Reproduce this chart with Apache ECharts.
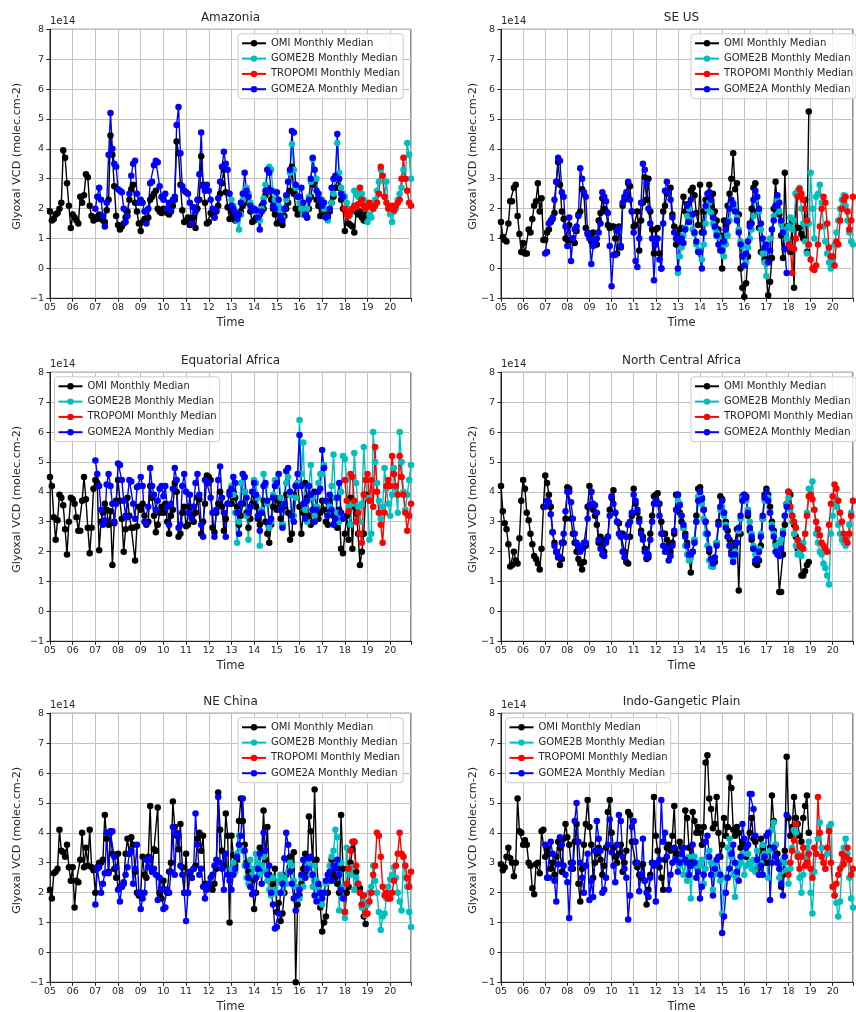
<!DOCTYPE html>
<html><head><meta charset="utf-8">
<script src="https://cdn.jsdelivr.net/npm/echarts@6/dist/echarts.min.js"></script>
<style>html,body{margin:0;padding:0;background:#fff}#c{width:856px;height:1012px}</style>
</head><body><div id="c"></div>
<script>
// ---------- labels ----------
const panelTitles = ['Amazonia','SE US','Equatorial Africa','North Central Africa','NE China','Indo-Gangetic Plain'];
const sensorNames = ['OMI Monthly Median','GOME2B Monthly Median','TROPOMI Monthly Median','GOME2A Monthly Median'];
const sensorStartYears = [2005, 2013, 2018, 2007];   // first month = January of that year
const xTickLabels = ['05','06','07','08','09','10','11','12','13','14','15','16','17','18','19','20'];
const yTickValues = [-1,0,1,2,3,4,5,6,7,8];
const yScaleLabel = '1e14';
const yAxisTitle = 'Glyoxal VCD (molec.cm-2)';
const xAxisTitle = 'Time';

// ---------- data (monthly medians, units of 1e14 molec/cm2) ----------
// Amazonia
const amazonia_OMI = [
1.9,1.6,1.65,1.8,1.85,2.0,2.2,3.95,3.7,2.85,2.1,1.35,
1.8,1.7,1.6,1.5,2.4,2.2,2.45,3.15,3.05,2.1,1.75,1.6,
1.7,1.65,1.8,1.75,1.6,1.55,1.95,2.3,4.45,3.8,2.75,1.75,
1.45,1.3,1.4,1.5,1.7,1.9,2.3,2.65,2.8,2.2,1.9,1.5,
1.25,1.55,1.65,1.6,1.7,2.3,2.4,2.5,2.6,2.0,1.9,1.85,
2.0,1.95,1.85,1.8,1.9,2.1,2.3,4.25,3.85,2.8,1.95,1.55,
1.6,1.7,1.45,1.55,1.7,1.35,2.0,2.3,3.75,2.8,2.2,1.5,
1.55,1.85,1.8,1.7,1.9,2.1,2.5,2.85,3.3,2.55,2.05,1.65,
1.9,1.7,1.6,1.75,1.8,1.9,2.1,2.3,2.5,2.2,1.9,1.55,
1.6,1.7,1.65,1.8,2.1,2.0,2.45,2.7,2.6,2.3,2.0,1.8,
1.5,1.8,1.6,1.45,1.75,2.0,2.2,2.6,3.4,2.5,2.0,1.8,
1.85,2.1,1.8,1.85,1.7,2.0,2.4,2.8,2.9,2.3,2.1,1.75,
2.0,1.75,1.8,1.7,1.9,2.2,2.4,2.7,3.0,2.7,2.3,2.0,
1.25,1.9,1.5,1.45,1.4,1.2,1.9,1.8,1.9,1.7,1.6,1.8];
const amazonia_GOME2A = [
2.0,2.4,2.7,2.3,1.75,1.4,2.2,3.8,5.2,4.0,3.5,3.4,
2.65,2.6,2.55,2.0,1.55,1.75,2.5,3.1,3.5,3.6,2.5,2.2,
2.3,2.2,1.9,1.5,2.0,2.85,2.9,3.45,3.6,3.55,2.75,2.4,
2.3,2.5,2.0,2.2,1.95,2.3,2.4,4.8,5.4,3.85,2.75,2.6,
2.55,2.5,2.2,1.5,2.05,1.9,2.3,3.15,4.55,2.75,2.6,2.8,
2.6,2.3,2.0,1.7,1.95,2.35,2.9,3.4,3.9,3.5,3.3,2.5,
2.1,2.0,1.85,1.65,1.8,2.2,2.5,3.2,2.6,2.4,2.1,1.95,
2.0,1.95,1.7,1.3,1.9,2.2,2.6,3.3,3.2,2.6,2.1,2.0,
2.55,2.3,1.75,1.6,2.0,2.45,2.9,3.3,4.6,4.55,2.8,2.4,
2.4,2.7,2.2,1.8,1.7,2.3,3.0,3.7,3.3,2.6,2.5,2.3,
2.1,2.2,1.7,1.75,2.0,2.7,3.0,3.1,4.5,3.0,2.5,2.4];
const amazonia_GOME2B = [
2.3,2.1,1.9,1.6,1.3,1.8,2.3,2.6,2.7,2.5,2.2,2.0,
2.0,1.9,1.75,1.6,2.0,2.35,2.8,3.3,3.4,3.3,2.6,2.3,
2.3,2.1,1.95,1.7,2.0,2.3,2.9,3.2,4.15,3.3,2.7,2.4,
2.2,2.0,1.8,1.9,2.0,2.4,2.9,3.65,3.3,3.0,2.5,2.3,
2.3,2.0,1.7,1.6,2.0,2.2,2.5,3.0,4.2,3.2,2.7,2.5,
2.4,2.2,2.0,1.8,2.0,2.6,2.5,2.4,2.7,2.5,2.3,2.2,
1.55,1.8,1.7,2.0,2.3,2.6,2.9,3.3,3.1,2.4,2.9,2.1,
1.8,1.55,1.9,2.0,2.3,2.5,2.7,3.3,3.0,4.2,3.8,3.0];
const amazonia_TROPOMI = [
2.0,1.8,1.75,1.9,2.0,2.1,2.05,2.15,2.7,2.3,2.1,2.0,
2.05,2.2,2.1,2.0,2.1,2.2,2.5,3.4,3.1,2.4,2.2,2.0,
2.05,2.1,1.95,2.1,2.2,2.3,3.0,3.7,3.0,2.6,2.2,2.1];

// SE US
const seus_OMI = [
1.55,1.05,0.95,0.9,1.5,2.25,2.25,2.7,2.8,1.75,1.15,0.55,
0.85,0.5,0.5,1.3,1.2,1.65,2.1,2.25,2.85,1.9,2.35,0.95,
0.95,1.2,1.3,1.55,1.65,1.85,2.9,3.55,2.8,1.9,1.65,1.0,
0.95,1.45,0.95,1.0,0.85,1.25,1.8,1.9,2.65,2.5,1.35,1.15,
1.1,0.9,1.2,0.9,0.8,1.6,1.85,2.35,2.0,1.9,1.45,1.35,
1.4,1.4,1.0,0.5,1.4,0.7,2.1,2.3,2.45,2.85,2.75,1.9,
1.4,1.45,1.9,0.6,1.6,2.2,3.05,2.3,3.0,1.9,1.3,0.5,
1.3,1.35,0.5,0.0,1.9,2.1,2.5,2.55,2.7,1.8,1.4,0.8,
1.1,1.3,1.35,2.4,1.9,2.15,1.75,2.6,2.7,2.45,1.85,1.45,
2.8,1.2,1.9,2.3,2.0,2.8,2.1,2.5,1.9,1.6,1.3,1.1,
0.0,1.6,1.4,2.1,2.5,3.0,3.85,2.65,2.85,1.8,0.0,-0.65,
-0.95,-0.5,0.4,1.5,2.0,2.7,2.85,1.9,1.35,0.55,0.5,0.3,
0.3,-0.9,-0.45,0.35,2.0,2.9,2.0,1.8,1.1,0.35,3.2,1.4,
1.4,0.55,1.6,-0.65,2.5,1.35,1.35,1.15,1.0,2.3,0.55,5.25];
const seus_GOME2A = [
0.5,0.55,1.5,1.6,1.7,2.3,2.9,3.7,3.6,2.55,2.4,1.4,
0.75,1.7,0.25,1.0,1.3,1.4,1.75,3.35,3.0,2.55,2.4,1.2,
1.0,0.15,0.75,0.9,1.0,1.2,1.5,2.55,2.4,2.25,1.85,0.75,
-0.6,0.45,0.45,1.25,1.35,0.75,2.2,2.4,2.55,2.9,2.3,1.9,
1.2,0.25,0.05,1.0,2.2,3.5,3.3,2.85,2.0,1.5,1.0,-0.4,
0.8,1.0,0.3,0.0,1.5,2.6,2.9,2.55,2.3,1.7,1.2,1.0,
0.0,0.9,1.0,0.85,1.3,2.1,1.55,2.3,1.8,1.2,0.9,0.55,
0.55,0.0,1.2,2.1,2.5,2.55,2.3,1.7,1.4,1.1,0.8,0.6,
0.6,0.9,1.3,1.55,2.0,2.3,2.15,1.9,1.6,1.2,0.8,0.4,
0.1,0.5,0.9,1.4,1.5,2.3,2.6,2.4,2.0,1.5,1.0,0.7,
0.8,0.2,0.6,1.3,1.6,2.1,2.45,2.2,1.6,1.2,0.65,-0.15];
const seus_GOME2B = [
-0.15,0.4,0.7,1.1,1.35,1.75,2.0,1.7,1.3,1.15,0.8,0.6,
0.6,0.3,0.8,1.5,2.0,2.2,1.85,1.5,1.35,1.2,1.05,0.7,
0.6,0.4,0.8,1.1,1.6,2.1,2.2,2.0,1.7,1.3,0.9,0.75,
0.4,0.2,0.7,1.0,1.3,1.75,2.3,2.4,1.9,1.3,0.5,0.2,
-0.25,0.6,1.0,1.3,1.75,2.1,2.3,1.9,1.5,1.3,1.2,1.0,
1.4,1.7,1.3,1.6,2.5,2.6,2.7,2.0,1.5,0.9,0.5,1.5,
3.2,2.0,1.0,2.4,2.5,2.8,2.2,1.4,0.9,0.5,0.2,0.0,
0.3,0.8,1.2,1.6,2.0,2.3,2.45,2.1,1.6,1.2,0.9,0.8];
const seus_TROPOMI = [
0.8,0.7,-0.15,0.65,1.0,2.4,2.65,2.5,2.3,2.0,1.6,0.8,
0.3,0.0,-0.05,0.1,0.8,1.4,2.0,2.4,2.2,1.5,0.7,0.4,
0.4,0.1,0.9,0.8,1.6,2.0,2.3,2.4,1.9,1.3,1.6,2.4];

// Equatorial Africa
const eqafrica_OMI = [
4.5,4.2,3.15,2.4,3.05,3.9,3.8,3.55,2.75,1.9,3.0,3.8,
3.75,3.6,3.15,2.7,2.7,3.7,4.5,3.75,2.8,1.95,2.8,4.1,
4.4,4.3,2.05,3.0,3.3,3.6,3.4,2.9,3.35,1.55,2.95,3.7,
4.4,3.7,3.1,2.0,2.75,3.8,3.2,2.8,2.8,1.7,2.85,3.5,
3.4,3.6,3.2,2.9,3.0,4.2,3.8,3.2,2.65,2.9,3.3,3.5,
3.3,3.6,3.0,2.6,3.2,3.4,4.3,4.0,2.5,2.6,3.3,3.5,
2.85,2.9,3.5,3.2,3.0,3.3,3.8,3.75,2.6,3.0,3.6,4.55,
4.5,4.4,2.8,2.65,3.3,3.6,4.0,3.5,2.7,3.1,3.6,4.0,
3.6,4.0,3.8,3.5,2.9,3.2,3.6,4.0,3.3,2.8,3.1,3.6,
3.9,3.5,3.1,2.9,3.3,3.7,3.0,2.6,2.3,2.9,3.5,3.8,
3.4,3.7,3.1,2.9,3.5,3.9,3.3,2.4,2.6,3.9,4.2,4.3,
3.5,2.6,3.3,4.3,3.8,3.2,2.9,3.4,4.0,3.5,3.1,3.3,
3.7,3.4,3.0,2.9,3.5,3.8,3.2,3.0,2.8,3.4,2.1,1.95,
2.6,3.2,2.4,3.8,2.1,3.5,3.3,2.6,1.55,2.0,2.6,3.9];
const eqafrica_GOME2A = [
5.05,4.6,4.2,3.4,2.9,3.05,4.25,4.6,4.2,3.6,3.0,3.6,
4.95,4.9,4.4,3.7,3.2,3.15,4.4,4.35,3.6,3.1,4.15,4.2,
4.5,4.2,3.0,2.95,3.5,4.8,4.2,3.9,3.4,3.7,4.1,4.2,
3.85,4.2,3.5,2.9,3.6,4.1,4.8,4.4,2.8,2.9,4.2,4.6,
4.0,3.3,3.9,3.1,3.5,4.3,4.6,3.9,2.9,2.5,4.4,4.3,
4.3,3.8,3.3,2.5,3.4,4.4,4.85,3.8,3.3,2.5,3.6,3.9,
4.1,4.5,4.3,3.3,2.6,3.6,4.6,4.5,3.8,3.3,3.5,4.0,
4.3,3.9,3.2,2.7,3.3,4.2,4.3,3.7,3.0,3.1,3.8,4.2,
4.3,4.6,3.4,2.8,3.6,4.7,4.8,4.0,3.2,3.0,4.2,4.6,
5.9,4.2,3.6,3.1,3.7,4.2,3.9,3.4,3.0,3.4,4.0,4.1,
5.4,4.8,3.7,3.2,3.9,3.4,2.9,3.1,3.8,4.3,3.3,3.1];
const eqafrica_GOME2B = [
4.2,3.9,3.3,2.3,3.0,4.3,4.6,4.0,3.2,2.4,3.5,4.0,
4.4,4.3,3.8,2.2,3.4,4.6,4.2,3.6,2.8,3.0,3.9,4.4,
4.2,4.6,3.8,2.9,3.6,4.3,4.5,3.9,3.1,3.2,3.8,4.3,
6.4,4.6,5.65,3.4,3.0,4.2,4.9,3.8,3.2,3.5,4.3,4.6,
4.6,4.9,3.7,3.2,3.5,4.2,5.25,3.8,3.3,3.0,4.0,5.2,
5.1,4.4,3.5,2.9,3.6,5.3,4.3,3.5,3.0,3.6,5.5,4.4,
3.8,2.4,2.6,6.0,5.0,4.3,3.7,3.1,3.5,4.8,4.1,3.6,
3.2,3.9,4.8,4.1,3.3,6.0,5.0,4.0,3.4,3.9,4.4,4.9];
const eqafrica_TROPOMI = [
4.4,3.7,3.35,4.6,4.5,3.7,3.0,3.3,2.6,2.3,3.9,4.4,
4.6,3.7,4.4,3.5,5.5,4.0,3.3,2.9,2.3,3.3,4.2,4.4,
4.2,5.2,4.6,4.2,3.9,5.2,4.5,3.9,3.3,2.7,3.2,3.6];

// North Central Africa
const ncafrica_OMI = [
4.2,3.35,2.95,2.75,2.25,1.5,1.55,2.0,1.7,1.6,2.45,3.7,
4.4,4.1,3.3,3.05,2.6,2.25,1.85,1.75,1.6,1.4,2.1,3.5,
4.55,4.3,3.9,3.5,2.65,2.3,2.0,1.8,1.55,1.75,2.3,3.1,
4.15,4.1,3.1,2.6,2.3,2.0,1.75,1.6,1.4,1.65,2.2,3.5,
4.2,4.0,3.4,3.2,2.9,2.3,2.5,2.3,2.0,2.4,2.5,3.4,
3.8,4.05,3.3,3.0,2.95,2.6,2.6,2.0,1.65,1.6,2.5,3.2,
4.1,3.6,3.3,3.1,2.7,2.5,2.1,1.75,1.8,2.6,3.2,3.85,
3.9,3.95,3.6,3.0,2.6,2.6,2.4,2.2,2.0,2.3,2.6,3.9,
3.9,3.3,3.0,2.8,2.6,2.3,1.85,1.3,2.0,2.4,3.2,4.1,
4.15,3.8,3.4,3.0,2.6,2.0,1.7,1.5,1.65,2.3,3.0,3.85,
3.75,3.3,3.0,2.7,2.4,2.0,2.2,2.3,2.75,0.7,2.6,3.85,
3.9,3.85,3.2,2.7,2.4,2.1,1.6,1.55,1.7,2.2,3.1,3.9,
4.1,3.9,3.5,3.0,2.7,2.3,2.1,0.65,0.65,1.9,2.9,3.6,
4.0,3.9,3.2,2.9,2.5,2.1,2.0,1.2,1.2,1.35,1.55,1.65];
const ncafrica_GOME2A = [
3.5,3.7,3.65,3.25,2.65,2.2,2.0,1.85,1.8,2.3,2.6,3.35,
4.0,4.0,3.65,3.1,2.6,2.3,2.2,2.0,2.1,2.3,2.3,3.1,
3.55,4.0,3.6,3.55,3.3,2.4,2.1,1.9,1.85,2.3,2.5,3.2,
3.85,3.6,3.3,3.0,2.6,2.5,2.0,1.8,2.5,2.9,3.0,3.3,
3.9,3.7,3.4,3.0,2.6,2.4,2.0,1.8,1.9,2.4,3.0,3.6,
3.7,3.6,3.2,2.6,2.2,2.0,2.1,1.7,1.85,2.2,2.7,3.4,
3.9,3.55,3.2,2.9,2.5,2.2,1.9,1.9,2.0,2.3,3.0,3.7,
4.0,3.75,3.4,3.0,2.6,2.1,1.75,1.6,1.8,2.2,2.9,3.5,
3.7,3.3,2.8,2.5,2.2,1.9,1.65,1.9,2.3,2.8,3.2,3.7,
3.9,3.8,3.3,2.8,2.5,2.1,1.7,1.75,2.0,2.5,3.2,3.8,
4.0,3.7,3.3,2.8,2.5,2.0,1.9,1.85,2.1,2.6,3.2,3.5];
const ncafrica_GOME2B = [
3.7,3.6,3.2,2.8,2.2,1.9,1.7,1.8,2.0,2.4,3.0,3.85,
3.9,3.6,3.1,2.6,2.2,1.7,1.5,1.5,1.8,2.3,2.9,3.4,
3.5,3.2,2.9,2.5,2.2,1.9,1.75,2.0,2.3,2.7,3.1,3.8,
3.9,3.7,3.4,3.0,2.6,2.2,1.9,1.8,2.1,2.6,3.1,3.7,
4.0,3.8,3.3,2.9,2.6,2.2,2.0,2.3,2.4,2.7,3.2,3.6,
3.8,3.4,3.0,2.6,2.2,1.9,2.0,1.85,2.3,2.6,3.3,4.1,
3.9,4.35,3.4,2.6,2.3,2.0,1.9,1.6,1.45,1.2,0.9,2.6,
3.2,3.8,3.5,2.9,2.6,2.4,2.3,2.2,2.5,2.9,3.3,3.7];
const ncafrica_TROPOMI = [
4.0,3.5,3.2,3.0,2.8,2.4,2.2,2.15,2.1,2.6,3.2,3.85,
3.9,3.75,3.4,3.0,2.75,2.55,2.3,2.2,2.1,2.0,2.9,3.6,
3.85,4.25,4.1,3.7,3.3,3.0,2.6,2.4,2.3,2.6,3.2,3.7];

// NE China
const nechina_OMI = [
2.1,1.8,2.65,2.7,2.8,4.1,3.4,3.35,3.2,3.6,2.85,2.4,
2.85,1.5,2.4,2.35,3.1,4.0,2.85,3.5,2.9,4.1,2.85,2.75,
2.0,2.85,3.0,3.0,3.1,4.6,3.8,2.7,4.05,3.3,2.8,2.5,
3.3,2.2,2.2,2.3,3.3,3.8,3.3,3.85,3.6,2.7,2.0,1.9,
2.0,3.2,2.6,2.5,3.2,4.9,2.7,3.45,3.4,4.85,2.0,1.8,
2.4,2.1,2.0,2.7,3.0,5.05,4.2,3.9,3.45,4.3,2.85,2.0,
3.3,2.0,2.6,2.5,2.8,2.9,3.8,4.0,3.4,3.9,2.3,2.2,
2.3,2.2,2.1,2.3,2.8,5.35,4.1,3.4,2.9,4.65,3.9,1.0,
3.9,3.25,2.9,3.1,4.4,5.15,4.4,3.6,3.0,2.7,2.5,2.4,
1.45,2.0,2.8,3.5,3.3,4.75,3.1,4.2,2.6,1.95,2.3,2.8,
1.35,1.65,1.05,1.3,2.0,2.6,3.1,3.2,2.8,3.35,-1.0,1.6,
1.9,2.3,2.8,3.3,2.6,4.55,4.05,3.0,5.45,3.1,2.2,1.5,
0.7,1.0,1.2,2.0,2.6,3.1,2.7,2.5,2.3,2.0,4.6,2.8,
1.35,2.0,2.2,3.0,3.45,3.7,2.7,2.3,2.15,1.6,1.2,0.95];
const nechina_GOME2A = [
1.6,2.8,2.85,2.0,2.3,2.65,4.0,2.65,4.0,4.05,3.2,2.85,
2.1,1.7,2.2,2.35,2.6,2.85,3.3,3.4,2.3,2.8,3.6,2.0,
1.45,1.8,2.0,3.1,2.85,3.15,2.7,2.8,2.6,1.75,2.5,2.1,
1.45,1.5,2.1,2.0,2.7,4.2,2.6,4.0,3.9,2.9,2.6,2.0,
1.05,2.0,2.7,2.5,2.8,4.65,3.6,2.6,2.8,2.2,1.8,2.1,
2.3,2.5,2.6,2.9,3.1,5.2,3.0,2.8,2.1,3.3,2.6,2.4,
2.1,2.6,2.8,3.2,3.6,3.9,5.15,3.4,2.9,2.5,2.2,1.95,
2.0,2.5,2.8,3.3,2.3,4.0,3.4,2.6,2.9,2.0,1.6,0.8,
0.85,1.3,2.0,2.3,3.15,4.0,3.6,2.7,2.3,1.8,1.4,1.9,
2.1,2.6,3.1,2.5,2.8,3.15,3.2,2.6,1.9,1.7,2.3,2.0,
1.8,2.0,2.4,2.6,2.7,2.4,2.9,2.8,3.1,2.6,2.1,1.8];
const nechina_GOME2B = [
2.8,3.0,2.7,3.3,3.9,3.5,3.4,2.9,2.5,2.3,3.1,2.6,
2.8,3.3,3.0,2.6,2.9,3.2,2.7,2.4,2.1,1.9,2.5,2.1,
2.0,2.4,2.6,2.0,2.5,2.3,2.7,3.0,2.9,2.4,2.2,1.8,
1.8,2.5,2.2,2.5,2.8,3.0,2.6,2.2,2.9,2.4,2.1,1.8,
1.6,2.0,2.3,2.6,2.9,3.2,3.4,4.1,3.85,1.4,3.0,2.2,
1.15,3.5,2.7,2.6,2.85,2.1,2.5,2.3,2.0,1.5,1.7,1.25,
1.6,2.0,2.2,2.9,2.4,2.0,1.35,0.75,1.2,1.3,1.8,2.2,
2.45,2.6,2.85,2.5,2.0,1.7,1.4,3.2,2.5,2.2,1.35,0.85];
const nechina_TROPOMI = [
1.35,2.3,2.8,3.4,3.7,3.7,2.9,2.3,2.0,1.6,1.9,1.3,
1.3,1.7,2.0,2.6,2.9,4.0,3.9,3.2,2.2,1.9,2.0,1.8,
1.8,2.0,2.4,2.9,3.3,4.0,3.3,3.2,2.9,2.5,2.2,2.7];

// Indo-Gangetic Plain
const igp_OMI = [
2.95,2.75,2.85,3.2,3.5,3.15,3.0,2.55,3.0,5.15,4.05,4.0,
3.6,3.75,3.6,3.0,2.9,2.15,1.95,2.95,3.0,2.65,4.05,4.1,
3.2,3.5,3.3,2.8,3.0,2.6,3.2,3.7,3.5,2.7,3.8,4.3,
3.85,3.6,3.0,2.8,3.7,4.3,2.3,1.7,2.8,3.6,4.3,5.1,
4.2,3.6,2.5,3.0,3.3,3.5,3.1,2.6,2.9,3.5,4.7,5.1,
4.0,3.5,3.2,3.0,3.3,3.6,2.7,3.0,3.4,4.7,4.6,3.7,
3.7,3.0,2.85,2.6,2.5,2.95,2.4,1.6,2.1,2.6,3.0,5.2,
3.9,3.4,2.85,2.5,2.1,3.1,3.5,3.6,3.4,3.9,4.9,3.3,
3.3,3.7,3.5,3.1,4.75,4.5,3.5,3.1,4.7,4.4,4.0,4.2,
4.0,3.6,4.2,6.35,6.6,5.15,4.8,4.15,4.3,5.2,4.0,3.2,
3.6,4.5,3.9,4.2,5.85,5.5,4.1,3.9,4.2,4.0,3.5,3.7,
3.6,3.2,3.6,4.0,4.5,3.8,3.7,2.7,2.85,3.8,3.4,3.1,
3.0,3.2,3.5,5.25,4.4,3.6,3.3,3.0,2.2,2.6,3.4,6.55,
4.5,3.9,4.2,5.2,4.5,4.3,3.9,3.7,4.5,4.9,5.25,4.0];
const igp_GOME2A = [
3.6,2.5,2.5,3.7,3.3,2.4,1.7,2.95,3.85,3.6,2.9,2.6,
2.35,1.15,2.8,3.0,4.4,5.0,3.7,3.0,2.5,2.0,2.9,3.3,
1.75,2.4,1.85,3.4,4.4,3.8,3.4,2.0,2.1,2.5,3.6,4.45,
3.35,2.9,2.35,3.6,4.6,4.4,3.2,2.8,2.5,1.1,1.9,4.2,
4.4,3.7,3.0,2.05,2.6,3.8,2.4,2.0,1.85,2.5,3.0,2.9,
1.7,3.0,3.1,5.1,3.7,4.0,3.2,2.1,2.6,3.0,3.5,3.1,
2.7,3.0,3.3,3.5,3.1,3.0,2.6,2.9,3.6,3.0,2.5,2.7,
1.8,2.2,2.6,3.7,3.9,3.2,2.6,1.9,2.8,3.1,3.2,2.6,
0.65,1.2,2.0,2.5,2.8,3.3,3.6,3.0,2.7,2.4,3.2,4.3,
3.8,3.5,3.6,5.3,5.3,4.8,3.9,3.1,2.6,2.9,2.6,3.2,
3.9,4.0,1.75,3.0,3.5,3.2,3.0,2.8,2.3,1.9,3.2,4.6];
const igp_GOME2B = [
3.0,2.9,3.1,2.6,3.0,2.4,3.2,1.8,2.9,3.2,2.9,3.0,
2.9,3.1,2.3,2.8,3.2,3.4,3.0,2.1,2.6,3.0,2.7,2.4,
1.3,2.0,2.5,3.5,3.8,3.2,2.6,1.85,2.5,2.9,3.0,3.3,
2.6,2.9,3.3,3.0,2.8,3.1,2.7,3.4,2.9,3.0,3.6,3.3,
3.2,2.5,3.4,4.1,4.35,3.6,3.0,2.5,2.7,3.1,3.0,2.75,
2.3,2.8,3.5,4.1,4.0,3.3,2.5,2.0,2.6,3.2,3.5,3.7,
2.0,1.3,2.7,3.3,3.8,4.35,3.5,3.0,2.8,3.3,4.2,4.3,
2.2,1.9,1.65,1.2,1.7,2.9,3.5,3.8,3.3,2.5,1.8,1.5];
const igp_TROPOMI = [
2.6,3.0,3.4,3.75,4.3,3.2,2.8,3.2,3.5,2.9,3.0,3.3,
2.8,2.5,3.5,3.3,5.2,4.0,3.2,3.0,2.8,3.5,4.05,3.0,
2.2,1.9,2.3,2.6,2.8,3.3,2.95,3.2,3.5,3.1,2.6,2.8];

// ---------- panel table ----------
const panelData = [
  [amazonia_OMI, amazonia_GOME2B, amazonia_TROPOMI, amazonia_GOME2A],
  [seus_OMI, seus_GOME2B, seus_TROPOMI, seus_GOME2A],
  [eqafrica_OMI, eqafrica_GOME2B, eqafrica_TROPOMI, eqafrica_GOME2A],
  [ncafrica_OMI, ncafrica_GOME2B, ncafrica_TROPOMI, ncafrica_GOME2A],
  [nechina_OMI, nechina_GOME2B, nechina_TROPOMI, nechina_GOME2A],
  [igp_OMI, igp_GOME2B, igp_TROPOMI, igp_GOME2A]
];

// ---------- styling / layout ----------
const FONT = '"DejaVu Sans", Verdana, sans-serif';
const TXT = '#262626';
const sensorColors = ['#000000', '#00bfbf', '#ff0000', '#0000ff'];
const W = 361, H = 269;
const XMIN = 2005, XMAX = 2020 + 11/12;
const layout = [
  {left: 50,  top: 29.3,  legendLeft: 238,   ylabX: 17},
  {left: 501, top: 29.3,  legendLeft: 691,   ylabX: 473},
  {left: 50,  top: 372.3, legendLeft: 54.5,  ylabX: 17},
  {left: 501, top: 372.3, legendLeft: 691,   ylabX: 473},
  {left: 50,  top: 713.3, legendLeft: 238,   ylabX: 17},
  {left: 501, top: 713.3, legendLeft: 505.5, ylabX: 473}
];

const grid = [], xAxis = [], yAxis = [], series = [], legend = [], graphic = [];
layout.forEach((L, p) => {
  grid.push({left: L.left, top: L.top, width: W, height: H, show: true,
    borderColor: '#222', borderWidth: 1, backgroundColor: 'rgba(0,0,0,0)', containLabel: false});
  xAxis.push({type: 'value', gridIndex: p, min: XMIN, max: XMAX, interval: 1,
    axisLine: {show: true, onZero: false, lineStyle: {color: '#222', width: 1}},
    axisTick: {show: true, length: 3.5, lineStyle: {color: '#222'}},
    axisLabel: {fontSize: 9.5, fontFamily: FONT, color: TXT, margin: 4,
      formatter: v => {
        if (Math.abs(v - Math.round(v)) > 1e-6) return '';
        const k = Math.round(v) - XMIN;
        return xTickLabels[k] !== undefined ? xTickLabels[k] : '';
      }},
    splitLine: {show: true, lineStyle: {color: '#c2c2c2', width: 1}}});
  yAxis.push({type: 'value', gridIndex: p, min: yTickValues[0], max: yTickValues[yTickValues.length-1], interval: 1,
    axisLine: {show: true, onZero: false, lineStyle: {color: '#222', width: 1}},
    axisTick: {show: true, length: 3.5, lineStyle: {color: '#222'}},
    axisLabel: {fontSize: 9.5, fontFamily: FONT, color: TXT, margin: 6,
      formatter: v => v < 0 ? '\u2212' + Math.abs(v) : String(v)},
    splitLine: {show: true, lineStyle: {color: '#c2c2c2', width: 1}}});
  panelData[p].forEach((arr, s) => {
    series.push({type: 'line', name: sensorNames[s], xAxisIndex: p, yAxisIndex: p,
      data: arr.map((v, i) => [sensorStartYears[s] + i / 12, v]),
      symbol: 'circle', symbolSize: 6.5, showSymbol: true, showAllSymbol: true,
      lineStyle: {color: sensorColors[s], width: 1.4},
      itemStyle: {color: sensorColors[s]},
      emphasis: {disabled: true}, animation: false, clip: true});
  });
  legend.push({orient: 'vertical', left: L.legendLeft, top: L.top + 4.5, data: sensorNames,
    itemWidth: 24, itemHeight: 8, itemGap: 3.3, padding: [3.5, 3, 3.5, 3],
    backgroundColor: 'rgba(255,255,255,0.85)', borderColor: '#cccccc', borderWidth: 1, borderRadius: 3,
    selectedMode: false, z: 10,
    textStyle: {fontSize: 10, fontFamily: FONT, color: TXT, lineHeight: 12}});
  graphic.push({type: 'text', x: L.left + W / 2, y: L.top - 11.5, z: 20,
    style: {text: panelTitles[p], fontSize: 12, fontFamily: FONT, fill: TXT, align: 'center', verticalAlign: 'middle'}});
  graphic.push({type: 'text', x: L.left, y: L.top - 7.5, z: 20,
    style: {text: yScaleLabel, fontSize: 10, fontFamily: FONT, fill: TXT, align: 'left', verticalAlign: 'middle'}});
  graphic.push({type: 'text', x: L.left + W / 2, y: L.top + H + 24.5, z: 20,
    style: {text: xAxisTitle, fontSize: 11.5, fontFamily: FONT, fill: TXT, align: 'center', verticalAlign: 'middle'}});
  graphic.push({type: 'text', x: L.ylabX, y: L.top + H / 2 - 7.5, rotation: Math.PI / 2, z: 20,
    style: {text: yAxisTitle, fontSize: 11.2, fontFamily: FONT, fill: TXT, align: 'center', verticalAlign: 'middle'}});
});

const chart = echarts.init(document.getElementById('c'), null, {renderer: 'canvas'});
chart.setOption({backgroundColor: '#ffffff', animation: false, grid, xAxis, yAxis, series, legend, graphic});
</script>
</body></html>
